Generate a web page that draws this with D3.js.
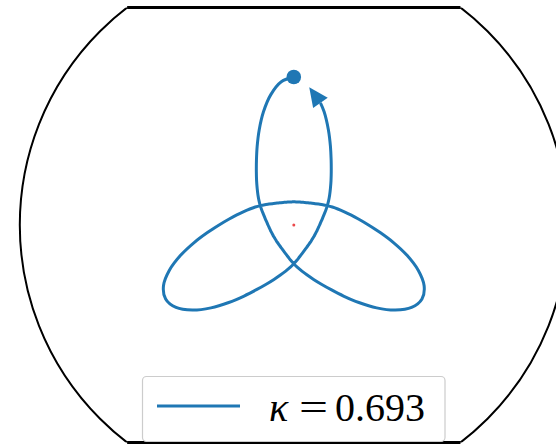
<!DOCTYPE html>
<html>
<head>
<meta charset="utf-8">
<script src="https://cdn.jsdelivr.net/npm/d3@7/dist/d3.min.js"></script>
<style>
  html, body { margin: 0; padding: 0; background: #fff; }
  svg { display: block; }
</style>
</head>
<body>
<svg id="chart" width="556" height="444"></svg>
<script>
// Orbit in polar form: angle (degrees, counter-clockwise from +x) and radius.
// The last entry is the tip of the direction arrow; the one before it is the arrow base.
const theta = [
  90, 95, 100, 105, 110, 115, 120, 125, 130, 135, 140, 145, 150, 155, 160, 165,
  170, 175, 180, 185, 190, 195, 200, 205, 210, 215, 220, 225, 230, 235, 240, 245,
  250, 255, 260, 265, 270, 275, 280, 285, 290, 295, 300, 305, 310, 315, 320, 325,
  330, 335, 340, 345, 350, 355, 360, 365, 370, 375, 380, 385, 390, 395, 400, 405,
  410, 415, 420, 425, 430, 435, 440, 445, 450, 455, 460, 465, 470, 475, 480, 485,
  490, 495, 500, 505, 510, 515, 520, 525, 530, 535, 540, 545, 550, 555, 560, 565,
  570, 575, 580, 585, 590, 595, 600, 605, 610, 615, 620, 625, 630, 635, 640, 645,
  650, 655, 660, 665, 670, 675, 680, 685, 690, 695, 700, 705, 710, 715, 720, 725,
  730, 735, 740, 745, 750, 755, 760, 765, 770, 775, 780, 785, 790, 795, 797.7, 803.6
];
const radius = [
  1.480, 1.438, 1.324, 1.172, 1.012, 0.867, 0.747, 0.653, 0.579, 0.518, 0.468, 0.425, 0.387, 0.354, 0.325, 0.302,
  0.284, 0.269, 0.258, 0.249, 0.242, 0.238, 0.234, 0.232, 0.232, 0.232, 0.234, 0.238, 0.242, 0.249, 0.258, 0.269,
  0.284, 0.302, 0.325, 0.354, 0.387, 0.425, 0.468, 0.518, 0.579, 0.653, 0.747, 0.867, 1.012, 1.172, 1.324, 1.438,
  1.480, 1.438, 1.324, 1.172, 1.012, 0.867, 0.747, 0.653, 0.579, 0.518, 0.468, 0.425, 0.387, 0.354, 0.325, 0.302,
  0.284, 0.269, 0.258, 0.249, 0.242, 0.238, 0.234, 0.232, 0.232, 0.232, 0.234, 0.238, 0.242, 0.249, 0.258, 0.269,
  0.284, 0.302, 0.325, 0.354, 0.387, 0.425, 0.468, 0.518, 0.579, 0.653, 0.747, 0.867, 1.012, 1.172, 1.324, 1.438,
  1.480, 1.438, 1.324, 1.172, 1.012, 0.867, 0.747, 0.653, 0.579, 0.518, 0.468, 0.425, 0.387, 0.354, 0.325, 0.302,
  0.284, 0.269, 0.258, 0.249, 0.242, 0.238, 0.234, 0.232, 0.232, 0.232, 0.234, 0.238, 0.242, 0.249, 0.258, 0.269,
  0.284, 0.302, 0.325, 0.354, 0.387, 0.425, 0.468, 0.518, 0.579, 0.653, 0.747, 0.867, 1.012, 1.172, 1.250, 1.386
];

// Force centre (polar origin)
const centreTheta = [0];
const centreRadius = [0];

// Radial limit of the polar frame and its flat vertical cut-offs (same units as radius)
const rMax = 2.74;
const yLimits = [-2.175, 2.175];

const kappaSymbol = "\u03BA";
const kappaValue = "0.693";

const blue = "#1f77b4";
const svg = d3.select("#chart");

const cx = 293.8, cy = 225, R = 274;
const r = d3.scaleLinear().domain([0, rMax]).range([0, R]);
const toRad = deg => (90 - deg) * Math.PI / 180;   // d3 radial angles run clockwise from north

const plot = svg.append("g").attr("transform", `translate(${cx},${cy})`);

// Circular frame, cut flat at the vertical limits
const yTop = -r(yLimits[1]), yBot = -r(yLimits[0]);
svg.append("clipPath").attr("id", "band")
  .append("rect").attr("x", -cx).attr("y", yTop).attr("width", 556).attr("height", yBot - yTop);

plot.append("circle")
  .attr("r", r(rMax))
  .attr("fill", "none").attr("stroke", "#000").attr("stroke-width", 2)
  .attr("clip-path", "url(#band)");

yLimits.forEach(v => {
  const half = Math.sqrt(rMax * rMax - v * v);
  plot.append("line")
    .attr("x1", -r(half)).attr("x2", r(half))
    .attr("y1", -r(v)).attr("y2", -r(v))
    .attr("stroke", "#000").attr("stroke-width", 3);
});

// Orbit
const pts = theta.map((t, i) => [toRad(t), r(radius[i])]);
const shaft = pts.slice(0, pts.length - 1);
const orbitLine = d3.lineRadial()
  .angle(d => d[0]).radius(d => d[1])
  .curve(d3.curveCatmullRom.alpha(0.5));

plot.append("path")
  .attr("d", orbitLine(shaft))
  .attr("fill", "none").attr("stroke", blue).attr("stroke-width", 3)
  .attr("stroke-linejoin", "round");

// Arrow head along the final step
const [bx, by] = d3.pointRadial(...pts[pts.length - 2]);
const [tx, ty] = d3.pointRadial(...pts[pts.length - 1]);
const len = Math.hypot(tx - bx, ty - by);
const ux = (tx - bx) / len, uy = (ty - by) / len;
const hw = 9;
plot.append("path")
  .attr("d", `M${tx},${ty}L${bx - uy * hw},${by + ux * hw}L${bx + uy * hw},${by - ux * hw}Z`)
  .attr("fill", blue);

// Start marker
const [sx, sy] = d3.pointRadial(...pts[0]);
plot.append("circle")
  .attr("cx", sx).attr("cy", sy).attr("r", 7.3)
  .attr("fill", blue);

// Centre marker
const [ox, oy] = d3.pointRadial(toRad(centreTheta[0]), r(centreRadius[0]));
plot.append("circle")
  .attr("cx", ox).attr("cy", oy).attr("r", 1.5)
  .attr("fill", "#e8292b").attr("opacity", 0.85);

// Legend
const lg = svg.append("g");
lg.append("rect")
  .attr("x", 142.5).attr("y", 376.5).attr("width", 302.5).attr("height", 65)
  .attr("rx", 4).attr("ry", 4)
  .attr("fill", "#fff").attr("stroke", "#cccccc").attr("stroke-width", 1.2);
lg.append("line")
  .attr("x1", 157).attr("x2", 240).attr("y1", 406).attr("y2", 406)
  .attr("stroke", blue).attr("stroke-width", 3);
const fontSerif = "'Liberation Serif', 'DejaVu Serif', serif";
lg.append("text")
  .attr("x", 269).attr("y", 421)
  .attr("font-family", fontSerif).attr("font-style", "italic").attr("font-size", 40)
  .text(kappaSymbol);
lg.append("text")
  .attr("x", 299).attr("y", 421)
  .attr("font-family", fontSerif).attr("font-size", 40)
  .attr("textLength", 29).attr("lengthAdjust", "spacingAndGlyphs")
  .text("=");
lg.append("text")
  .attr("x", 335).attr("y", 421)
  .attr("font-family", fontSerif).attr("font-size", 40)
  .text(kappaValue);
</script>
</body>
</html>
